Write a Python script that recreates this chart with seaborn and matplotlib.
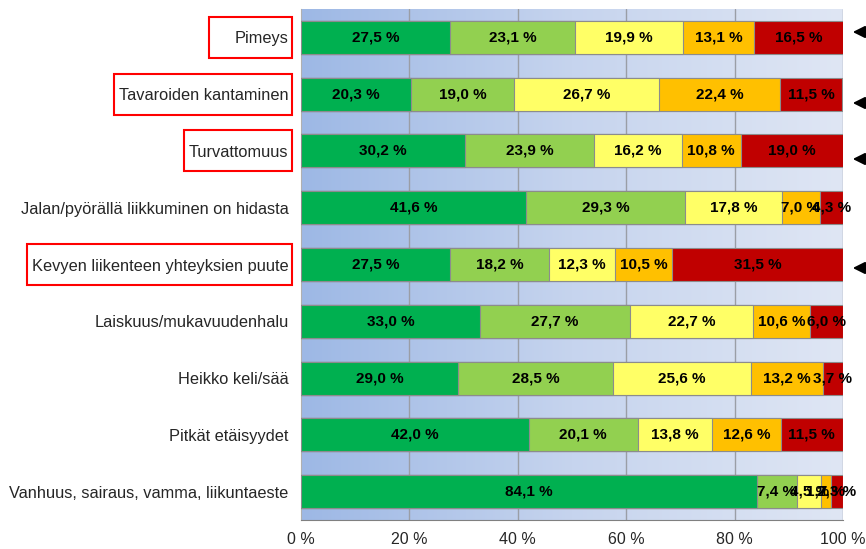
import numpy as np
import pandas as pd
import matplotlib
matplotlib.use("Agg")
import matplotlib.pyplot as plt
import matplotlib.patches as mpatches
from matplotlib.colors import LinearSegmentedColormap
import seaborn as sns

# data (share of answers, %)
categories = [
    "Pimeys",
    "Tavaroiden kantaminen",
    "Turvattomuus",
    "Jalan/pyörällä liikkuminen on hidasta",
    "Kevyen liikenteen yhteyksien puute",
    "Laiskuus/mukavuudenhalu",
    "Heikko keli/sää",
    "Pitkät etäisyydet",
    "Vanhuus, sairaus, vamma, liikuntaeste",
]
s1 = [27.5, 20.3, 30.2, 41.6, 27.5, 33.0, 29.0, 42.0, 84.1]
s2 = [23.1, 19.0, 23.9, 29.3, 18.2, 27.7, 28.5, 20.1, 7.4]
s3 = [19.9, 26.7, 16.2, 17.8, 12.3, 22.7, 25.6, 13.8, 4.5]
s4 = [13.1, 22.4, 10.8, 7.0, 10.5, 10.6, 13.2, 12.6, 1.7]
s5 = [16.5, 11.5, 19.0, 4.3, 31.5, 6.0, 3.7, 11.5, 2.3]
series = [s1, s2, s3, s4, s5]
colors = ["#00b050", "#92d050", "#ffff66", "#ffc000", "#c00000"]
x_ticks = [0, 20, 40, 60, 80, 100]
highlighted = ["Pimeys", "Tavaroiden kantaminen", "Turvattomuus",
               "Kevyen liikenteen yhteyksien puute"]

sns.set_style("white")
plt.rcParams["font.family"] = ["Liberation Sans", "DejaVu Sans"]

W, H = 866, 549
fig = plt.figure(figsize=(W / 100, H / 100), dpi=100)
ax = fig.add_axes([301 / W, 1 - 520 / H, 542 / W, 511 / H])

df = pd.DataFrame({"cat": categories})
cum = np.cumsum(np.array(series), axis=0)

# stacked bars: draw cumulative totals from the longest to the shortest
for i in range(len(series) - 1, -1, -1):
    df["val"] = cum[i]
    sns.barplot(data=df, x="val", y="cat", color=colors[i], orient="h",
                width=0.58, saturation=1, edgecolor="#8c8c8c", linewidth=0.8,
                ax=ax, zorder=3)

# value labels
for i, s in enumerate(series):
    left = cum[i] - np.array(s)
    for j, v in enumerate(s):
        ax.text(left[j] + v / 2, j, f"{v:.1f} %".replace(".", ","),
                ha="center", va="center", fontsize=11, fontweight="bold",
                color="black", zorder=5)

# gradient background
grad = LinearSegmentedColormap.from_list("bg", ["#9db8e5", "#c6d4ee", "#dfe6f4"])
ax.imshow(np.linspace(0, 1, 256).reshape(1, -1), cmap=grad, aspect="auto",
          extent=[0, 100, len(categories) - 0.5, -0.5], zorder=0)

ax.set_xlim(0, 100)
ax.set_ylim(len(categories) - 0.5, -0.5)
ax.set_xticks(x_ticks)
ax.set_xticklabels([f"{t} %" for t in x_ticks], fontsize=11.5)
for t in x_ticks[1:]:
    ax.axvline(t, color="#9a9ea6", lw=1, zorder=1)
ax.set_xlabel("")
ax.set_ylabel("")
ax.tick_params(axis="y", length=0, labelsize=11.8, pad=9)
ax.set_yticks(np.arange(len(categories) - 1) + 0.5, minor=True)
ax.tick_params(axis="y", which="minor", length=4, color="#808080", direction="out")
ax.tick_params(axis="x", length=4, color="#808080", direction="out", pad=5)
for side in ["top", "right"]:
    ax.spines[side].set_visible(False)
ax.spines["left"].set_color("#b0b0b0")
ax.spines["bottom"].set_color("#808080")

# red boxes around the highlighted labels, arrows at the right edge
fig.canvas.draw()
renderer = fig.canvas.get_renderer()
row_px = 511 / len(categories)
arrow_y = {"Pimeys": 32, "Tavaroiden kantaminen": 103, "Turvattomuus": 159,
           "Kevyen liikenteen yhteyksien puute": 268}
for lab in ax.get_yticklabels():
    name = lab.get_text()
    if name not in highlighted:
        continue
    bb = lab.get_window_extent(renderer)
    pad_left = 26 if name == "Pimeys" else 5
    j = categories.index(name)
    yc = 9 + row_px * (j + 0.5)
    rect = mpatches.Rectangle((bb.x0 - pad_left, H - yc - 20.5),
                              bb.x1 + 3 - (bb.x0 - pad_left), 41,
                              transform=None, fill=False, edgecolor="#ff0000",
                              lw=1.5)
    fig.patches.append(rect)
    yf = 1 - arrow_y[name] / H
    ax.annotate("", xy=(850 / W, yf), xytext=(872 / W, yf),
                xycoords="figure fraction", textcoords="figure fraction",
                arrowprops=dict(arrowstyle="-|>", color="black", lw=1.5,
                                mutation_scale=18), annotation_clip=False)

fig.savefig("out.png", dpi=100)
